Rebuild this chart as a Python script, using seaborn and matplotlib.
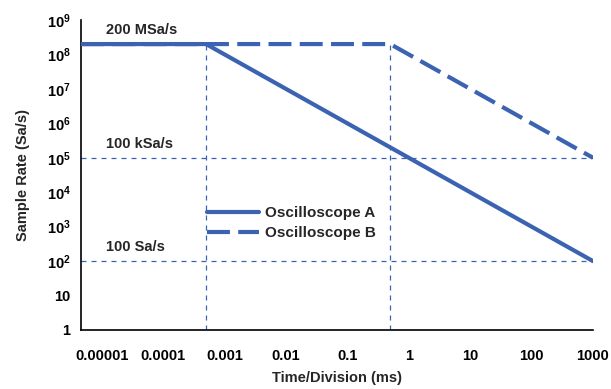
import matplotlib
matplotlib.use("Agg")
import matplotlib.pyplot as plt
import seaborn as sns
import pandas as pd
from matplotlib import font_manager

sns.set_style("white")
fams = [f.name for f in font_manager.fontManager.ttflist]
main = "Liberation Sans Narrow" if "Liberation Sans Narrow" in fams else "Liberation Sans"
plt.rcParams['font.family'] = [main, 'DejaVu Sans']
plt.rcParams['font.weight'] = 'bold'
plt.rcParams['mathtext.fontset'] = 'custom'
plt.rcParams['mathtext.rm'] = main + ':bold'
plt.rcParams['mathtext.bf'] = main + ':bold'
plt.rcParams['mathtext.it'] = main + ':bold'

# Data
series = ["Oscilloscope A", "Oscilloscope B"]
a_time = [4.6e-6, 0.0005, 1000]
a_rate = [2e8, 2e8, 1e2]
b_time = [4.6e-6, 0.5, 1000]
b_rate = [2e8, 2e8, 1e5]
ref_rates = [1e5, 1e2]
ref_times = [0.0005, 0.5]
ref_labels = ["200 MSa/s", "100 kSa/s", "100 Sa/s"]
ref_label_rates = [2e8, 1e5, 1e2]
x_ticks = [1e-5, 1e-4, 1e-3, 1e-2, 1e-1, 1, 10, 100, 1000]
x_labels = ["0.00001", "0.0001", "0.001", "0.01", "0.1", "1", "10", "100", "1000"]
y_ticks = [10**i for i in range(10)]
y_labels = ["1", "10"] + [r"$10^{%d}$" % i for i in range(2, 10)]

df = pd.DataFrame({
    "time": a_time + b_time,
    "rate": a_rate + b_rate,
    "scope": [series[0]] * len(a_time) + [series[1]] * len(b_time),
})

color = "#3B63B1"
fig = plt.figure(figsize=(6.11, 3.89), dpi=100)
ax = fig.add_axes([0.1326, 0.1517, 0.9705 - 0.1326, 0.9486 - 0.1517])

# reference lines
for r in ref_rates:
    ax.plot([a_time[0], b_time[-1]], [r, r], color=color, lw=0.9, ls=(0, (4, 4)), zorder=1)
for t in ref_times:
    ax.plot([t, t], [1, a_rate[0]], color=color, lw=0.9, ls=(0, (4, 4)), zorder=1)

sns.lineplot(data=df, x="time", y="rate", style="scope", sort=False, ax=ax,
             color=color, linewidth=3.0, dashes={series[0]: "", series[1]: (5.5, 2.0)},
             estimator=None, zorder=3)

ax.set_xscale("log")
ax.set_yscale("log")
ax.set_xlim(a_time[0], 1000)
ax.set_ylim(1, 1e9)
ax.set_xticks(x_ticks)
ax.set_xticklabels(x_labels)
ax.set_yticks(y_ticks)
ax.set_yticklabels(y_labels)
ax.minorticks_off()
ax.tick_params(axis="both", direction="inout", length=7, width=1.2, colors="black",
               labelsize=10.5, pad=4)
ax.tick_params(axis="x", pad=10)
for lab in ax.get_xticklabels() + ax.get_yticklabels():
    lab.set_fontweight("bold")
for s in ["top", "right"]:
    ax.spines[s].set_visible(False)
for s in ["left", "bottom"]:
    ax.spines[s].set_color("black")
    ax.spines[s].set_linewidth(1.2)

ax.set_xlabel("Time/Division (ms)", fontsize=10.5, fontweight="bold", labelpad=6)
ax.set_ylabel("Sample Rate (Sa/s)", fontsize=10.5, fontweight="bold", labelpad=12)

for lab, r in zip(ref_labels, ref_label_rates):
    ax.text(1.16e-5, r * 1.6, lab, fontsize=10.5, fontweight="bold", ha="left", va="bottom")

leg = ax.legend(loc="upper left", bbox_to_anchor=(0.246, 0.40), frameon=False,
                fontsize=11, handlelength=3.4, handletextpad=0.4,
                labelspacing=0.4, borderaxespad=0, borderpad=0)
for t in leg.get_texts():
    t.set_fontweight("bold")

fig.savefig("out.png", dpi=100)
